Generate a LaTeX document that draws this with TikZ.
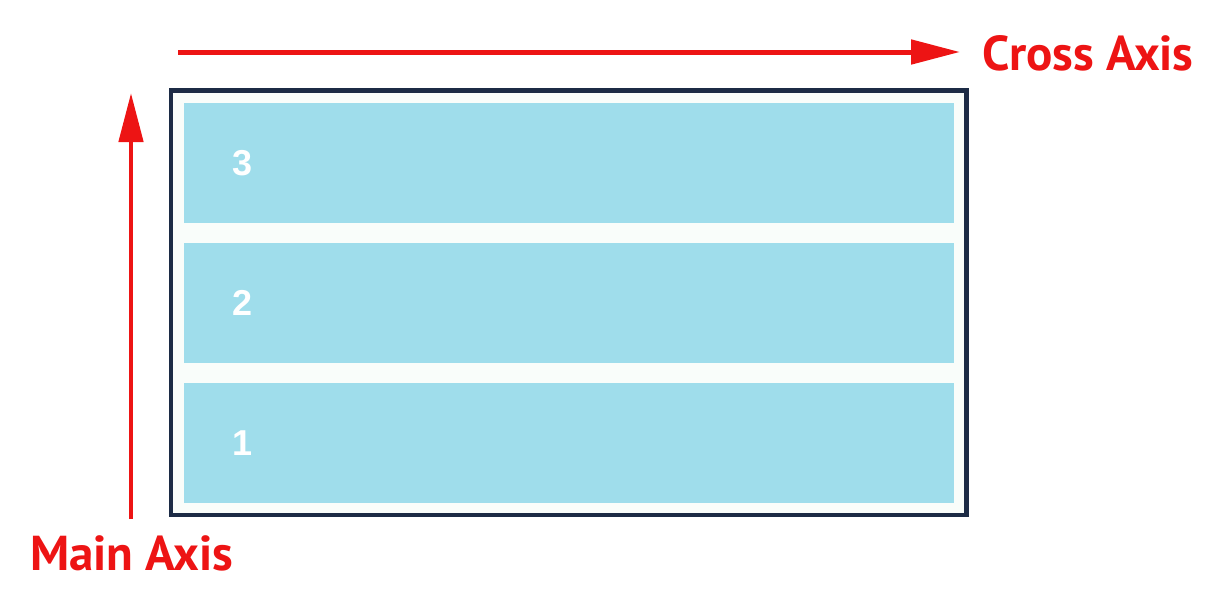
\documentclass[tikz,border=0pt]{standalone}
\usepackage{fontspec}
\setsansfont{PT Sans}
\newfontfamily\numfont{Liberation Sans}
\usetikzlibrary{arrows.meta,positioning}

\definecolor{axisred}{RGB}{237,20,20}
\definecolor{rowblue}{RGB}{159,221,235}
\definecolor{boxnavy}{RGB}{28,43,69}
\definecolor{boxbg}{RGB}{249,253,250}

\begin{document}
\begin{tikzpicture}[x=1pt, y=-1pt,
  row/.style={fill=rowblue, draw=none, inner sep=0pt, minimum width=770pt, minimum height=120pt},
  rownum/.style={text=white, inner sep=0pt, font=\numfont\bfseries\fontsize{36}{42}\selectfont},
  axis/.style={draw=axisred, line width=5pt, -{Triangle[length=49pt,width=24pt]}},
  axislabel/.style={text=axisred, inner sep=0pt, anchor=base west, font=\sffamily\bfseries\fontsize{49}{58}\selectfont}]

  %% ════ 外框（容器）════
  \node[draw=boxnavy, fill=boxbg, line width=4.3pt, inner sep=0pt,
        minimum width=795.5pt, minimum height=424.5pt] (box) at (568.75,302.75) {};

  %% ════ 三行（自上而下 3,2,1）════
  \foreach \n/\y in {3/162.8, 2/302.8, 1/442.8} {
    \node[row] (row\n) at (569,\y) {};
    \node[rownum] (num\n) at (243,\y) {\n};
  }

  %% ════ 坐标轴箭头 ════
  \coordinate (cross start) at (178,52);
  \coordinate (cross end) at (960,52);
  \draw[axis] (cross start) -- (cross end);
  \node[axislabel] (cross label) at (982,70) {Cross Axis};

  \coordinate (main start) at (131,519);
  \coordinate (main end) at (131,93);
  \draw[axis, line width=4.7pt] (main start) -- (main end);
  \node[axislabel] (main label) at (30,570) {Main Axis};

  % 钉死画布
  \pgfresetboundingbox
  \path[use as bounding box] (0,0) rectangle (1228,603);
\end{tikzpicture}
\end{document}
